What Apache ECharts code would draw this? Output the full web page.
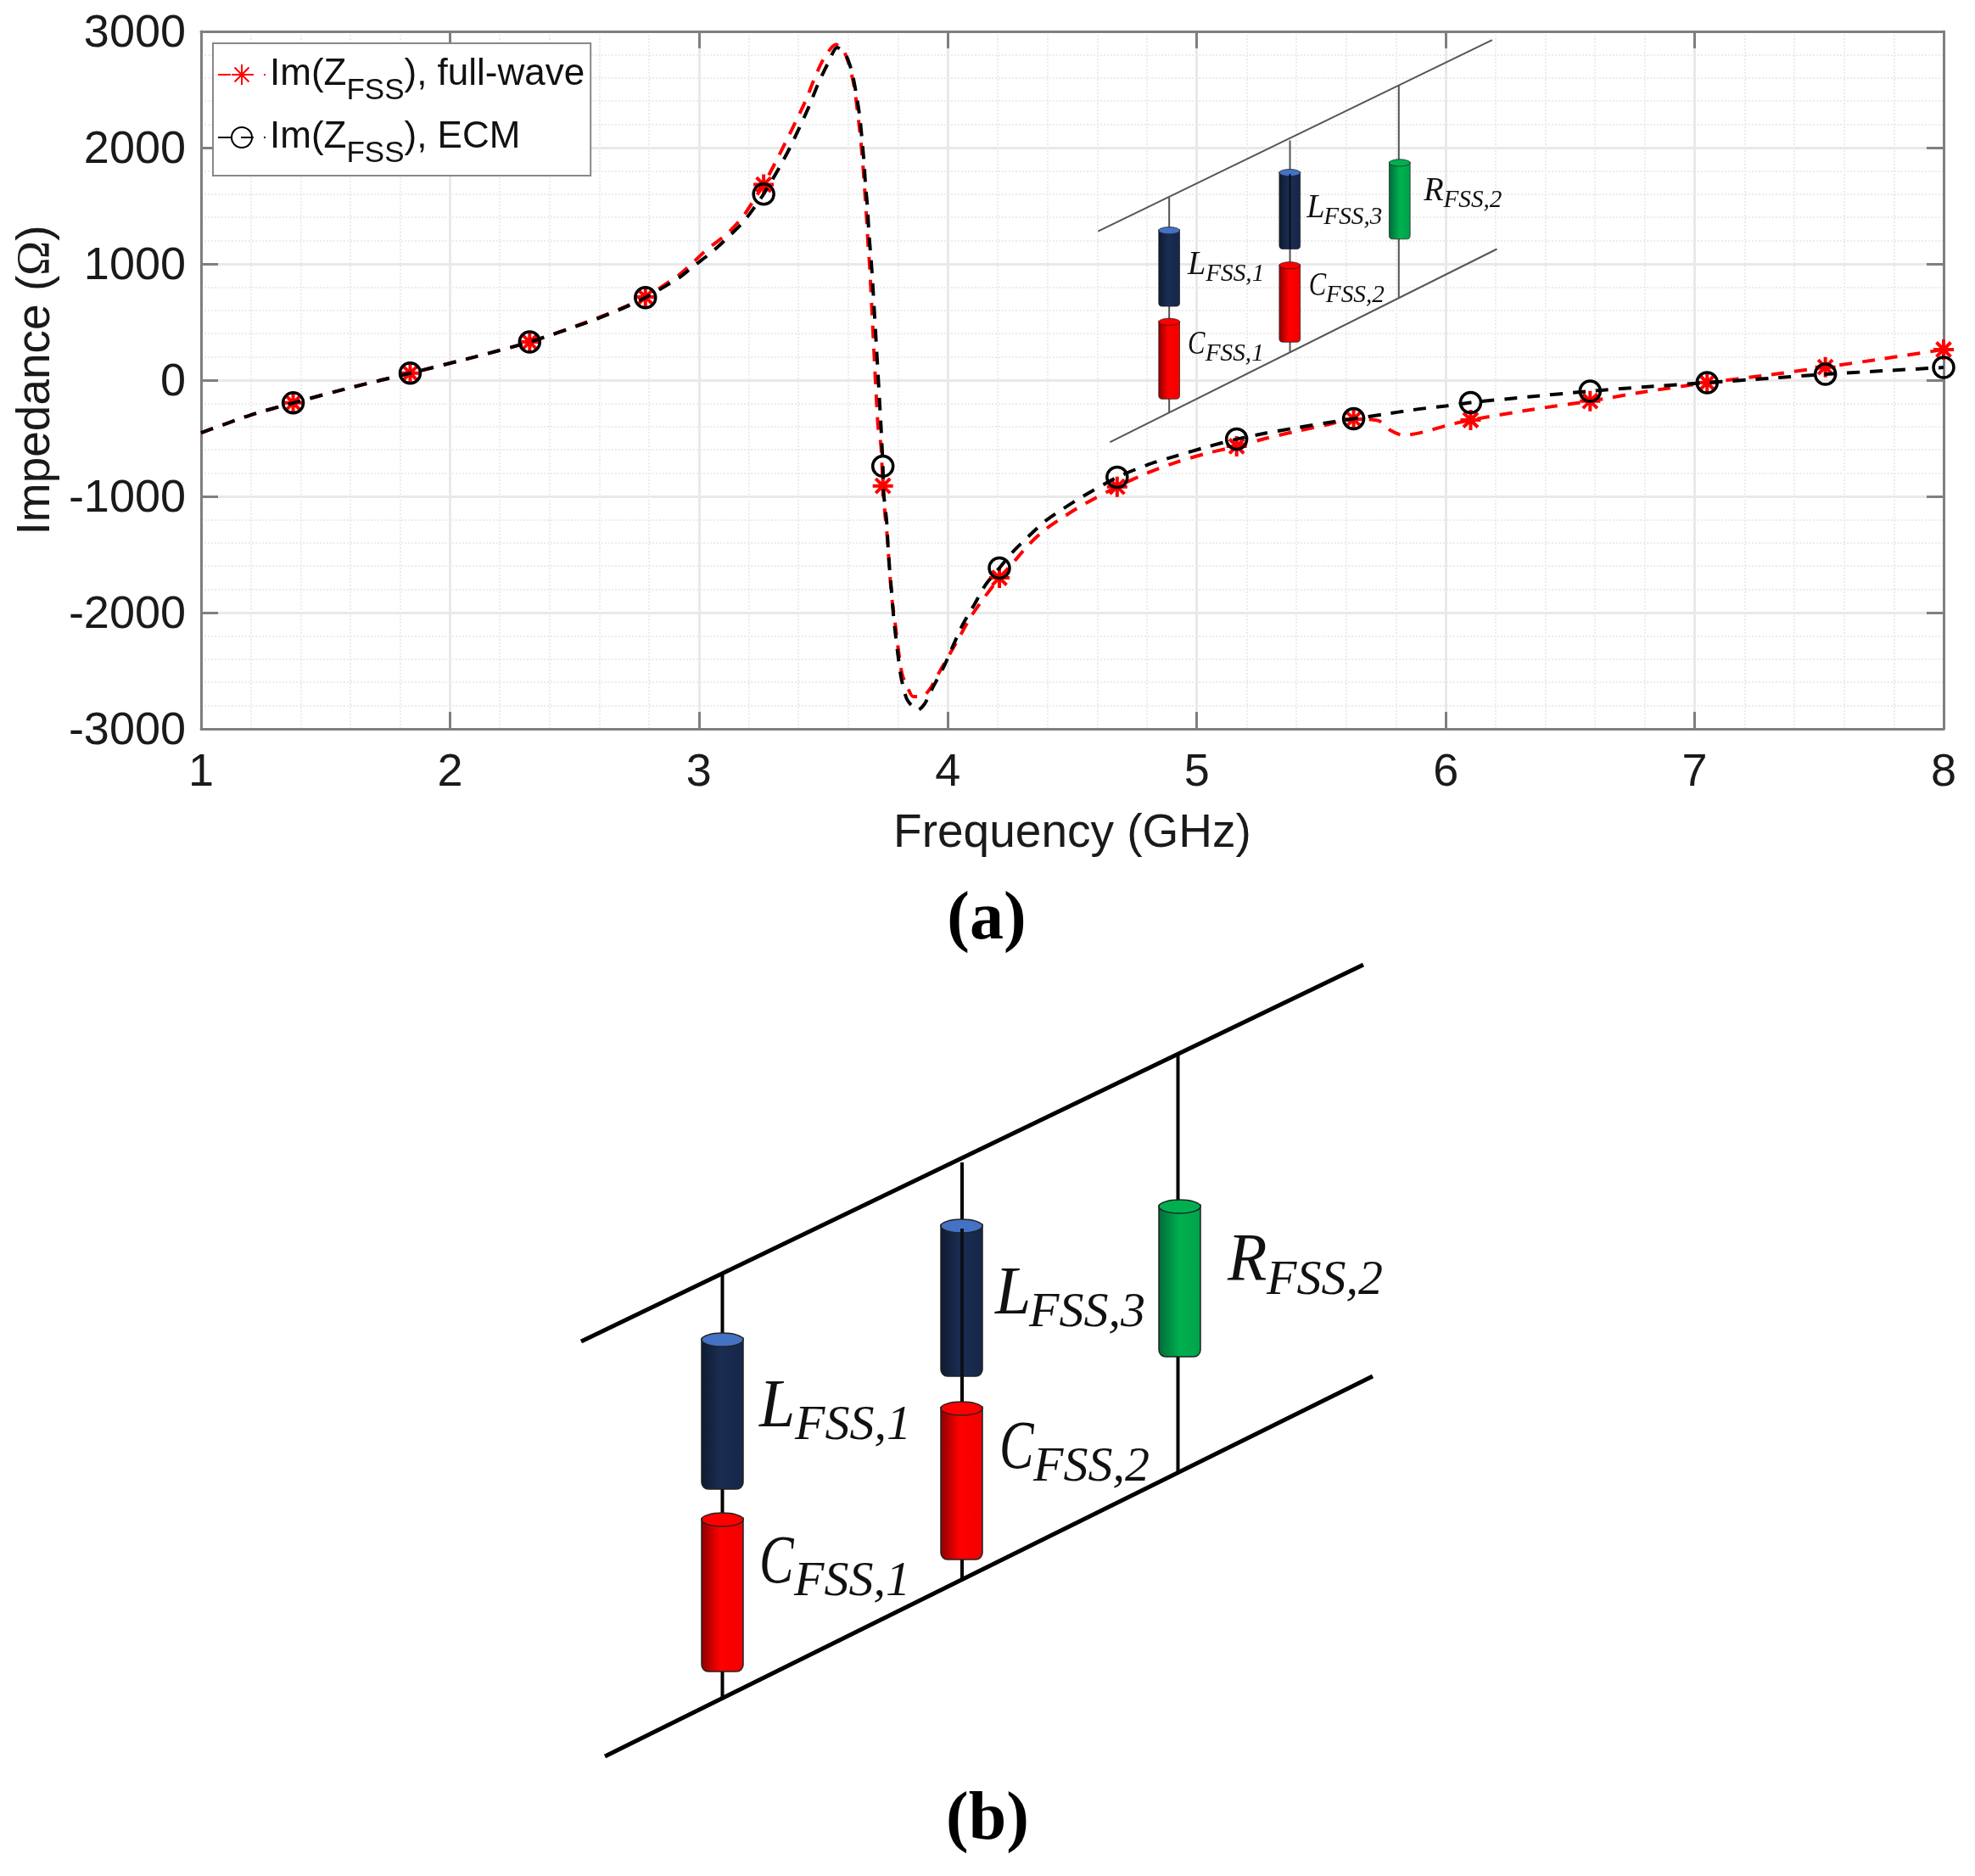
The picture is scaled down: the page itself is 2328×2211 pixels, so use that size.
<!DOCTYPE html>
<html>
<head>
<meta charset="utf-8">
<style>html,body{margin:0;padding:0;background:#fff}#c{width:2328px;height:2211px}</style>
<script src="https://cdn.jsdelivr.net/npm/echarts@6/dist/echarts.min.js"></script>
</head>
<body>
<div id="c"></div>
<script>
const markerFreq = [1.37,1.84,2.32,2.785,3.26,3.739,4.207,4.68,5.16,5.63,6.10,6.58,7.05,7.525,8];

const freqFullWave = [1,1.2,1.37,1.6,1.84,2.1,2.32,2.55,2.68,2.785,2.919,2.976,3.038,3.112,3.175,3.217,3.26,3.311,3.351,3.39,3.43,3.464,3.504,3.55,3.578,3.601,3.623,3.637,3.646,3.655,3.663,3.669,3.675,3.68,3.686,3.719,3.731,3.739,3.748,3.757,3.768,3.776,3.788,3.799,3.816,3.839,3.861,3.896,3.93,3.958,4.004,4.049,4.094,4.146,4.207,4.259,4.322,4.39,4.464,4.537,4.68,4.8,4.92,5.04,5.16,5.28,5.4,5.52,5.63,5.73,5.78,5.83,5.91,6.01,6.10,6.34,6.58,6.8,7.05,7.3,7.525,7.76,8];
const imFullWave = [-453,-300,-196,-65,60,200,328,500,610,715,903,1012,1134,1256,1402,1536,1682,1888,2059,2229,2411,2594,2776,2886,2849,2728,2533,2314,2144,1949,1730,1536,1341,1146,976,-387,-557,-910,-1166,-1360,-1701,-1895,-2090,-2285,-2528,-2650,-2723,-2723,-2650,-2540,-2370,-2200,-2029,-1871,-1701,-1579,-1421,-1287,-1178,-1080,-917,-800,-705,-630,-569,-500,-440,-385,-335,-350,-435,-475,-447,-387,-343,-255,-180,-100,-22,45,112,185,263];

const freqEcm = [1,1.2,1.37,1.6,1.84,2.1,2.32,2.55,2.68,2.785,2.919,2.976,3.05,3.118,3.18,3.223,3.26,3.326,3.368,3.408,3.444,3.478,3.516,3.555,3.589,3.614,3.632,3.646,3.655,3.663,3.669,3.677,3.682,3.689,3.696,3.731,3.739,3.742,3.754,3.759,3.765,3.773,3.782,3.791,3.802,3.814,3.836,3.879,3.907,3.941,3.986,4.026,4.06,4.106,4.151,4.207,4.259,4.322,4.39,4.464,4.537,4.68,4.8,4.92,5.04,5.16,5.28,5.4,5.52,5.63,5.75,5.87,6,6.10,6.34,6.58,6.8,7.05,7.3,7.525,7.76,8];
const imEcm = [-453,-300,-196,-65,60,200,328,495,605,710,879,976,1098,1231,1365,1487,1600,1840,2010,2192,2363,2545,2716,2862,2801,2655,2460,2265,2071,1876,1682,1487,1292,1098,903,-387,-740,-971,-1214,-1409,-1603,-1798,-2041,-2212,-2406,-2577,-2747,-2840,-2784,-2638,-2455,-2260,-2102,-1932,-1762,-1616,-1482,-1348,-1214,-1105,-1007,-836,-730,-650,-575,-508,-455,-410,-368,-332,-295,-255,-222,-193,-142,-95,-58,-22,16,51,80,109];

const nameFullWave = 'Im(ZFSS), full-wave';
const nameEcm = 'Im(ZFSS), ECM';
const xAxisName = 'Frequency (GHz)';
const yAxisName = 'Impedance ({o|Ω})';

const SANS = '"Liberation Sans", Arial, sans-serif';
const SERIF = '"Liberation Serif", serif';
const STAR = 'path://M0 -10L0 10M-10 0L10 0M-7.07 -7.07L7.07 7.07M-7.07 7.07L7.07 -7.07';

function points(fs, vs) {
  return fs.map((f, i) => {
    const item = { value: [f, vs[i]] };
    if (!markerFreq.includes(f)) item.symbol = 'none';
    return item;
  });
}

/* ---- circuit schematic, used twice: the large drawing and the inset ---- */
function cylinder(x, y, w, h, stops, cap, lw) {
  y -= 2; h += 2;
  return [
    { type: 'rect', shape: { x, y: y + 6, width: w, height: h - 6, r: [0, 0, 8, 8] },
      style: { fill: { type: 'linear', x: 0, y: 0, x2: 1, y2: 0, colorStops: stops }, stroke: '#222', lineWidth: lw } },
    { type: 'ellipse', shape: { cx: x + w / 2, cy: y + 8, rx: w / 2, ry: 8 },
      style: { fill: cap, stroke: '#222', lineWidth: lw } }
  ];
}
function label(x, y, main, sub, subX, subY, sx) {
  return [
    { type: 'text', x, y: y - 25, scaleX: sx, style: { text: main, font: 'italic 80px ' + SERIF, fill: '#111', verticalAlign: 'middle' } },
    { type: 'text', x: subX, y: subY - 19, style: { text: sub, font: 'italic 58px ' + SERIF, fill: '#111', verticalAlign: 'middle' } }
  ];
}
function schematic(tx, ty, sx, sy, railColor, railW, wireColor, wireW, id) {
  const navy = [{ offset: 0, color: '#0e1a30' }, { offset: .45, color: '#1a2d52' }, { offset: 1, color: '#16264a' }];
  const red = [{ offset: 0, color: '#8a0000' }, { offset: .45, color: '#ff0000' }, { offset: 1, color: '#f00000' }];
  const green = [{ offset: 0, color: '#00693a' }, { offset: .5, color: '#00b050' }, { offset: 1, color: '#00a24a' }];
  const line = (x1, y1, x2, y2, c, w) => ({ type: 'line', shape: { x1, y1, x2, y2 }, style: { stroke: c, lineWidth: w } });
  const children = [
    line(685, 1581, 1607, 1137, railColor, railW),
    line(713, 2070, 1618, 1622, railColor, railW),
    line(851.5, 1502, 851.5, 2001, wireColor, wireW),
    line(1134, 1370, 1134, 1863, wireColor, wireW),
    line(1388.5, 1242, 1388.5, 1734, wireColor, wireW),
    ...cylinder(827, 1573, 49, 182, navy, '#4472c4', 1.5),
    ...cylinder(827, 1785, 49, 185, red, '#ff0000', 1.5),
    ...cylinder(1109, 1439, 49, 183, navy, '#4472c4', 1.5),
    line(1134, 1448, 1134, 1622, '#0a0f1a', wireW),
    ...cylinder(1109, 1654, 49, 184, red, '#ff0000', 1.5),
    ...cylinder(1366, 1416, 49, 183, green, '#00b050', 1.5),
    ...label(895, 1685, 'L', 'FSS,1', 937, 1700, 0.95),
    ...label(895, 1869, 'C', 'FSS,1', 936, 1884, 0.76),
    ...label(1173, 1552, 'L', 'FSS,3', 1213, 1567, 0.95),
    ...label(1178, 1734, 'C', 'FSS,2', 1218, 1749, 0.76),
    ...label(1447, 1513, 'R', 'FSS,2', 1493, 1529, 0.95)
  ];
  children.forEach(c => { c.z = 20; });
  return { type: 'group', id, x: tx, y: ty, scaleX: sx, scaleY: sy, z: 20, children };
}

const axisGray = '#7f7f7f';
const chart = echarts.init(document.getElementById('c'), null, { renderer: 'canvas' });
chart.setOption({
  animation: false,
  backgroundColor: '#fff',
  textStyle: { fontFamily: SANS },
  grid: { left: 237, top: 37, width: 2054, height: 822, containLabel: false },
  legend: {
    orient: 'vertical', left: 251, top: 51, padding: [0, 7, 8, 5],
    itemWidth: 56, itemHeight: 30, itemGap: 0,
    backgroundColor: '#fff', borderColor: '#888', borderWidth: 2,
    selectedMode: false, align: 'left', z: 30,
    data: [nameFullWave, nameEcm],
    formatter: n => n.replace('FSS', '{s|FSS}'),
    textStyle: {
      color: '#111', fontFamily: SANS, fontSize: 44, lineHeight: 74,
      rich: { s: { fontFamily: SANS, fontSize: 35, lineHeight: 35, verticalAlign: 'bottom', color: '#111' } }
    }
  },
  xAxis: [{
    type: 'value', min: 1, max: 8, interval: 1,
    name: xAxisName, nameLocation: 'middle', nameGap: 96,
    nameTextStyle: { fontFamily: SANS, fontSize: 55, color: '#1a1a1a' },
    axisLine: { show: true, onZero: false, lineStyle: { color: axisGray, width: 3 } },
    axisTick: { show: true, inside: true, length: 20, lineStyle: { color: axisGray, width: 3 } },
    minorTick: { show: false, splitNumber: 5 },
    axisLabel: { fontFamily: SANS, fontSize: 54, color: '#1a1a1a', margin: 25, formatter: v => String(v), showMinLabel: true, showMaxLabel: true },
    splitLine: { show: true, lineStyle: { color: '#e9e9e9', width: 3 } },
    minorSplitLine: { show: true, lineStyle: { color: '#ececec', width: 2, type: 'dotted' } }
  }, {
    type: 'value', min: 1, max: 8, interval: 1, position: 'top',
    axisLine: { show: true, onZero: false, lineStyle: { color: axisGray, width: 3 } },
    axisTick: { show: true, inside: true, length: 20, lineStyle: { color: axisGray, width: 3 } },
    axisLabel: { show: false }, splitLine: { show: false }
  }],
  yAxis: [{
    type: 'value', min: -3000, max: 3000, interval: 1000,
    name: yAxisName, nameLocation: 'middle', nameGap: 163, nameRotate: 90,
    nameTextStyle: { fontFamily: SANS, fontSize: 55, color: '#1a1a1a',
      rich: { o: { fontFamily: SERIF, fontSize: 55, color: '#1a1a1a' } } },
    axisLine: { show: true, onZero: false, lineStyle: { color: axisGray, width: 3 } },
    axisTick: { show: true, inside: true, length: 20, lineStyle: { color: axisGray, width: 3 } },
    minorTick: { show: false, splitNumber: 5 },
    axisLabel: { margin: 18, formatter: v => '{a|' + v + '}', showMinLabel: true, showMaxLabel: true,
      rich: { a: { fontFamily: SANS, fontSize: 54, color: '#1a1a1a', padding: [6, 0, 0, 0] } } },
    splitLine: { show: true, lineStyle: { color: '#e9e9e9', width: 3 } },
    minorSplitLine: { show: true, lineStyle: { color: '#ececec', width: 2, type: 'dotted' } }
  }, {
    type: 'value', min: -3000, max: 3000, interval: 1000, position: 'right',
    axisLine: { show: true, onZero: false, lineStyle: { color: axisGray, width: 3 } },
    axisTick: { show: true, inside: true, length: 20, lineStyle: { color: axisGray, width: 3 } },
    axisLabel: { show: false }, splitLine: { show: false }
  }],
  series: [{
    name: nameFullWave, type: 'line', xAxisIndex: 0, yAxisIndex: 0, clip: false, z: 5,
    data: points(freqFullWave, imFullWave), smooth: 0.25,
    symbol: STAR, symbolSize: 24, showSymbol: true, showAllSymbol: true,
    lineStyle: { color: '#ff0000', width: 4, type: [15, 12] },
    itemStyle: { color: 'rgba(0,0,0,0)', borderColor: '#ff0000', borderWidth: 4 }
  }, {
    name: nameEcm, type: 'line', xAxisIndex: 0, yAxisIndex: 0, clip: false, z: 6,
    data: points(freqEcm, imEcm), smooth: 0.25,
    symbol: 'circle', symbolSize: 24, showSymbol: true, showAllSymbol: true,
    lineStyle: { color: '#000000', width: 4, type: [15, 12] },
    itemStyle: { color: 'rgba(0,0,0,0)', borderColor: '#000000', borderWidth: 3.5 }
  }],
  graphic: [
    schematic(949, -530.5, 0.504, 0.508, '#555', 4, '#555', 4, 'inset'),
    schematic(0, 0, 1, 1, '#000', 5, '#000', 4, 'main'),
    { type: 'text', x: 1163, y: 1085, z: 20, style: { text: '(a)', font: 'bold 80px ' + SERIF, fill: '#000', align: 'center', verticalAlign: 'middle' } },
    { type: 'text', x: 1164, y: 2146, z: 20, style: { text: '(b)', font: 'bold 80px ' + SERIF, fill: '#000', align: 'center', verticalAlign: 'middle' } }
  ]
});
</script>
</body>
</html>
